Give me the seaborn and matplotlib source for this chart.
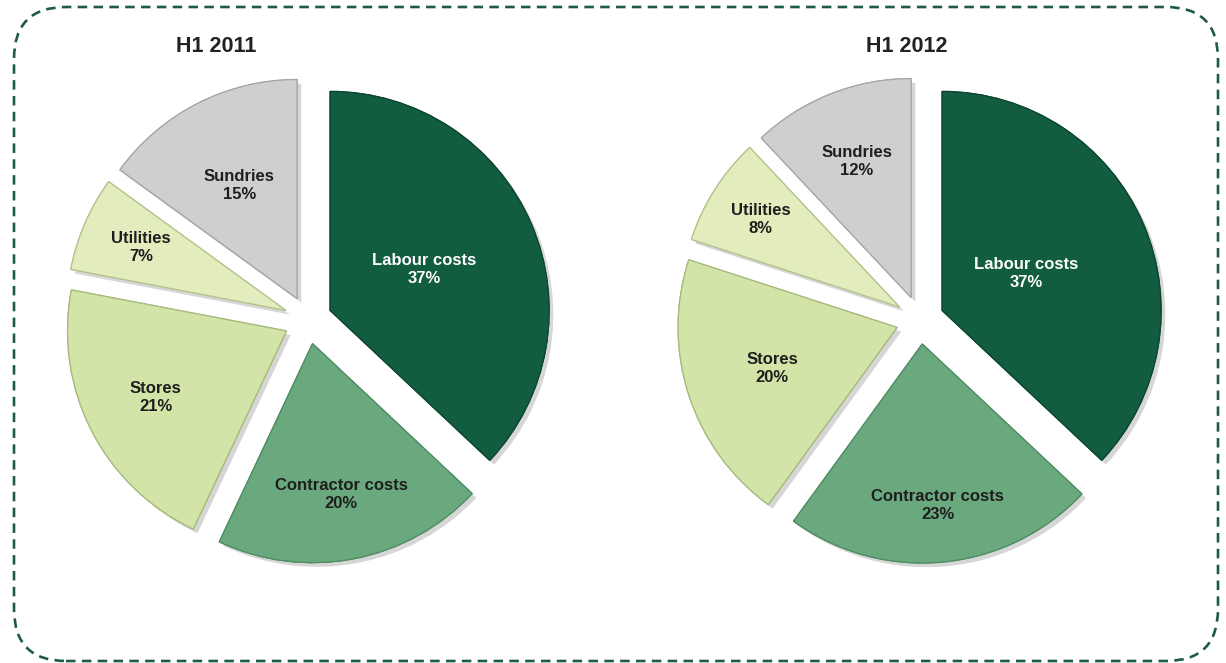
import matplotlib
matplotlib.use("Agg")
import matplotlib.pyplot as plt
import matplotlib.patheffects as pe
from matplotlib.patches import FancyBboxPatch
import numpy as np
import seaborn as sns

# ---- data ----
categories = ["Labour costs", "Contractor costs", "Stores", "Utilities", "Sundries"]
share_2011 = [37, 20, 21, 7, 15]
share_2012 = [37, 23, 20, 8, 12]
titles = ["H1 2011", "H1 2012"]

# ---- style ----
colors = ["#125C3F", "#6AA97E", "#D3E4A8", "#E2ECBC", "#CFCFCF"]
edge_colors = ["#0C4530", "#4E8C64", "#A7B97C", "#B3C38C", "#A6A6A6"]
text_colors = ["white", "#1E1E1E", "#1E1E1E", "#1E1E1E", "#1E1E1E"]

sns.set_theme(style="white")
plt.rcParams['font.family'] = ['Liberation Sans', 'DejaVu Sans']

W, H = 1226, 663
fig = plt.figure(figsize=(W / 100, H / 100), dpi=100)
fig.patch.set_facecolor("white")

# background axes in pixel units for the dashed rounded frame
bg = fig.add_axes([0, 0, 1, 1])
bg.set_xlim(0, W)
bg.set_ylim(0, H)
bg.axis("off")
bg.add_patch(FancyBboxPatch((14, 2), 1204, 654,
                            boxstyle="round,pad=0,rounding_size=52",
                            fill=False, ec="#1D5B44", lw=1.9,
                            ls=(0, (3.6, 2.4))))

R = 219          # pie radius in pixels
half = 300       # half size of each pie axes in pixels
centers = [(308, 320), (920, 320)]   # pixel centres (from top)
label_dist = [[0.47, 0.70, 0.67, 0.72, 0.58],
              [0.42, 0.74, 0.60, 0.75, 0.67]]
title_pos = [(216, 47), (907, 47)]
explode = 0.11

for i, vals in enumerate([share_2011, share_2012]):
    cx, cy_top = centers[i]
    cy = H - cy_top
    ax = fig.add_axes([(cx - half) / W, (cy - half) / H, 2 * half / W, 2 * half / H])
    ax.patch.set_alpha(0)
    wedges, _ = ax.pie(vals, colors=colors, startangle=90, counterclock=False,
                       explode=[explode] * len(vals), radius=1,
                       wedgeprops=dict(lw=0.9))
    for w, ec in zip(wedges, edge_colors):
        w.set_edgecolor(ec)
        w.set_path_effects([pe.withSimplePatchShadow(offset=(3, -3),
                                                     shadow_rgbFace="#8a8a8a",
                                                     alpha=0.35),
                            pe.Normal()])
    for j, w in enumerate(wedges):
        mid = np.deg2rad((w.theta1 + w.theta2) / 2)
        x0, y0 = w.center
        d = label_dist[i][j]
        ax.text(x0 + d * np.cos(mid), y0 + d * np.sin(mid),
                f"{categories[j]}\n{vals[j]}%", ha="center", va="center",
                fontsize=12, fontweight="bold", color=text_colors[j],
                linespacing=1.25)
    lim = half / R
    ax.set_xlim(-lim, lim)
    ax.set_ylim(-lim, lim)
    ax.set_aspect("equal")
    ax.axis("off")

    tx, ty = title_pos[i]
    fig.text(tx / W, 1 - ty / H, titles[i], ha="center", va="center",
             fontsize=15.5, fontweight="bold", color="#222222")

fig.savefig("out.png", dpi=100, facecolor="white")
